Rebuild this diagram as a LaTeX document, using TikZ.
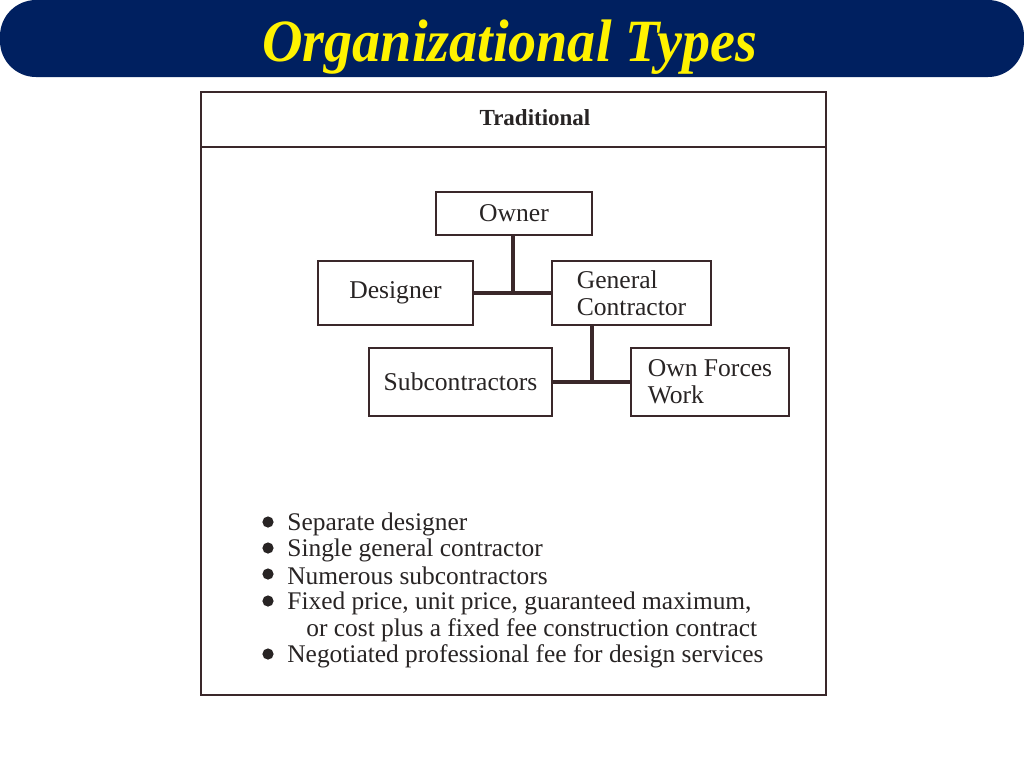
\documentclass[tikz,border=0pt]{standalone}
\usepackage{fontspec}
\setmainfont{Liberation Serif}
\usetikzlibrary{positioning}
\definecolor{navy}{RGB}{0,32,96}
\definecolor{ink}{RGB}{58,40,42}
\definecolor{txt}{RGB}{40,36,36}
\begin{document}
\begin{tikzpicture}[x=0.5pt, y=-0.5pt]
\tikzstyle{org}=[draw=ink, line width=1pt, fill=white, align=left,
                 inner sep=2pt, font=\fontsize{12.8}{13.4}\selectfont, text=txt]
\tikzstyle{link}=[draw=ink, line width=2pt]
\tikzstyle{item}=[anchor=west, inner sep=0pt, font=\fontsize{12.7}{14}\selectfont, text=txt]
\useasboundingbox (0,0) rectangle (1024,768);
\fill[white] (0,0) rectangle (1024,768);
% title bar
\fill[navy, rounded corners=18pt] (0,0) rectangle (1024,77);
\node[text=yellow, xscale=0.935, anchor=base, inner sep=0pt,
      font=\fontsize{30}{32}\selectfont\bfseries\itshape] (title) at (510,61) {Organizational Types};
% frame
\draw[ink, line width=1pt] (201,92) rectangle (826,695);
\draw[ink, line width=1pt] (201,147) -- (826,147);
\node[font=\fontsize{11.5}{13}\selectfont\bfseries, text=txt] (head) at (535,118) {Traditional};
% chart
\node[org, minimum width=78pt, minimum height=21.5pt] (own) at (514,213) {Owner};
\node[org, minimum width=77.5pt, minimum height=32pt] (des) at (395.5,293) {Designer};
\node[org, minimum width=79.5pt, minimum height=32pt] (gc) at (631.5,293) {General\\Contractor};
\node[org, minimum width=91.5pt, minimum height=34pt] (sub) at (460.5,382) {Subcontractors};
\node[org, minimum width=79pt, minimum height=34pt] (ofw) at (710,382) {Own Forces\\Work};
\coordinate (j1) at (513,294);
\coordinate (j2) at (592,382);
\draw[link] (own.south -| j1) -- (j1);
\draw[link] (des.east) -- (gc.west);
\draw[link] (gc.south -| j2) -- (j2);
\draw[link] (sub.east) -- (ofw.west);
% notes
\foreach \y/\t [count=\i] in {524/Separate designer, 550/Single general contractor,
    576/Numerous subcontractors, 603/{Fixed price, unit price, guaranteed maximum,},
    656/Negotiated professional fee for design services}
  \node[item] (note\i) at (287,\y) {\t};
\node[item] (note6) at (306,630) {or cost plus a fixed fee construction contract};
\foreach \y in {522,548,574,601,654}
  \fill[txt] (268,\y) circle (2.8pt);
\end{tikzpicture}
\end{document}
